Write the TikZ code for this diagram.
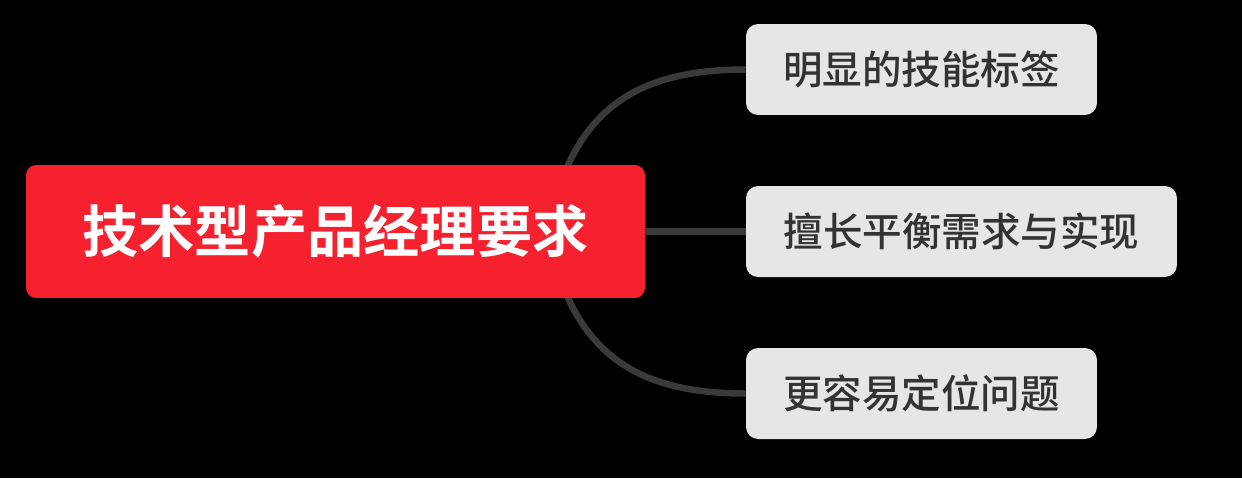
\documentclass[tikz,border=0pt]{standalone}
\usepackage{fontspec}
\newfontfamily\cjk{Noto Sans CJK SC}[BoldFont={Noto Sans CJK SC Bold}]
\newfontfamily\cjkmed{Noto Sans CJK SC Medium}
\definecolor{mmred}{RGB}{246,33,47}
\definecolor{mmgray}{RGB}{230,230,230}
\definecolor{mmline}{RGB}{58,58,58}
\definecolor{mmtext}{RGB}{51,51,51}
\usetikzlibrary{positioning,calc}
\pgfdeclarelayer{background}
\pgfsetlayers{background,main}

\begin{document}
\begin{tikzpicture}[x=0.02cm,y=-0.02cm,
  rootbox/.style={fill=mmred,rounded corners=0.2cm,minimum width=12.38cm,minimum height=2.66cm,inner sep=0pt,text=white,font=\cjk\bfseries\fontsize{32}{38}\selectfont},
  topic/.style={fill=mmgray,rounded corners=0.24cm,minimum height=1.82cm,inner sep=0pt,text=mmtext,font=\cjkmed\fontsize{22.5}{27}\selectfont},
  branch/.style={draw=mmline,line width=0.13cm}]
  % central topic
  \node[rootbox] (root) at (335.5,231.5) {技术型产品经理要求};
  % subtopics
  \node[topic,minimum width=7.02cm] (t1) at (921.5,69.5) {明显的技能标签};
  \node[topic,minimum width=8.62cm] (t2) at (961.5,231.5) {擅长平衡需求与实现};
  \node[topic,minimum width=7.02cm] (t3) at (921.5,393.5) {更容易定位问题};
  % branches, hidden under the central topic
  \coordinate (b1) at (560,185);
  \coordinate (b3) at (560,278);
  \begin{pgfonlayer}{background}
    % canvas
    \useasboundingbox[fill=black] (0,0) rectangle (1242,478);
    \draw[branch] (b1) .. controls (590,100) and (650,69.5) .. (t1.west);
    \draw[branch] (root.east) -- (t2.west);
    \draw[branch] (b3) .. controls (590,363) and (650,393.5) .. (t3.west);
  \end{pgfonlayer}
\end{tikzpicture}
\end{document}
